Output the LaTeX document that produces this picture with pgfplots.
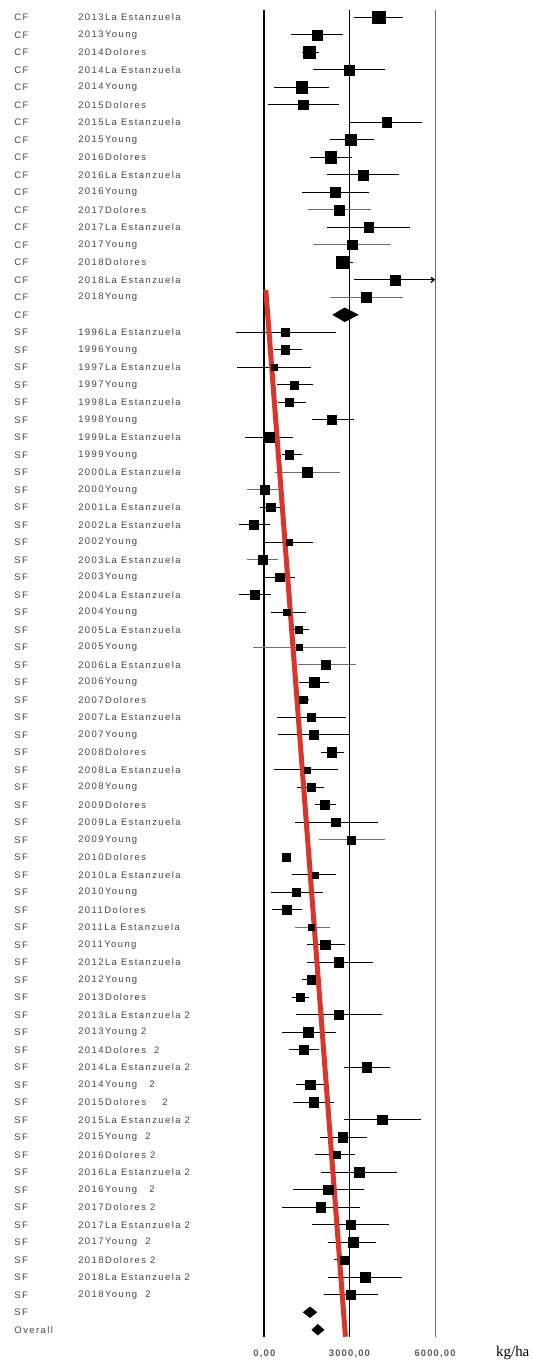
\documentclass[border=0pt]{standalone}
\usepackage{fontspec}
\usepackage{pgfplots}
\usepackage{pgfplotstable}
\pgfplotsset{compat=1.18}
\usetikzlibrary{arrows.meta}

\newfontfamily\lblfont[LetterSpace=15]{Liberation Sans}
\newfontfamily\tickfont[LetterSpace=12]{Liberation Sans}
\newfontfamily\unitfont{Liberation Serif}
\definecolor{lbl}{HTML}{454545}
\definecolor{ticktext}{HTML}{5A5A5A}
\definecolor{trend}{HTML}{D9352B}
\definecolor{thinci}{HTML}{6E6E6E}

% keep only rows whose numeric column #1 equals #2
\pgfplotsset{
  only if/.style 2 args={restrict expr to domain={\thisrow{#1}}{#2:#2}},
}

% row: position from the top; grp/name: study labels;
% est, lo, hi: mean difference and 95% interval (kg/ha);
% sz: half side of the square; lw: 1 thick interval, 0 thin, 2 pooled
\pgfplotstableread[col sep=comma]{
row,grp,name,est,lo,hi,sz,lw
1,CF,2013La Estanzuela,4024,3167,4893,6.3,1
2,CF,2013Young,1857,952,2786,5,1
3,CF,2014Dolores,1607,1321,1917,6,1
4,CF,2014La Estanzuela,2988,1726,4262,5,1
5,CF,2014Young,1321,369,2298,5.7,1
6,CF,2015Dolores,1381,131,2631,4.7,1
7,CF,2015La Estanzuela,4298,3036,5548,4.7,1
8,CF,2015Young,3036,2321,3845,5.7,1
9,CF,2016Dolores,2345,1607,3107,5.7,1
10,CF,2016La Estanzuela,3476,2202,4750,5,1
11,CF,2016Young,2500,1321,3702,5,1
12,CF,2017Dolores,2631,1548,3762,5,0
13,CF,2017La Estanzuela,3679,2214,5131,4.7,1
14,CF,2017Young,3095,1726,4440,4.7,0
15,CF,2018Dolores,2774,2536,3131,6.3,1
16,CF,2018La Estanzuela,4595,3167,6000,5,1
17,CF,2018Young,3571,2321,4869,5,0
18,CF,,2833,2417,3310,0,2
19,SF,1996La Estanzuela,750,-976,2536,4.3,1
20,SF,1996Young,750,369,1345,4.3,1
21,SF,1997La Estanzuela,369,-952,1667,3.3,1
22,SF,1997Young,1060,464,1714,4,1
23,SF,1998La Estanzuela,893,488,1476,4.3,1
24,SF,1998Young,2381,1679,3143,4.7,1
25,SF,1999La Estanzuela,179,-643,1024,5,1
26,SF,1999Young,893,631,1345,4.3,1
27,SF,2000La Estanzuela,1524,393,2679,4.7,0
28,SF,2000Young,36,-583,548,4.3,0
29,SF,2001La Estanzuela,238,-143,583,4.3,1
30,SF,2002La Estanzuela,-357,-881,214,4.3,1
31,SF,2002Young,905,0,1726,3,1
32,SF,2003La Estanzuela,-48,-583,488,4.3,0
33,SF,2003Young,548,0,1107,4.3,1
34,SF,2004La Estanzuela,-310,-857,262,4.3,1
35,SF,2004Young,810,238,1476,3.3,1
36,SF,2005La Estanzuela,1214,869,1583,3.7,1
37,SF,2005Young,1238,-381,2893,3.3,0
38,SF,2006La Estanzuela,2179,1190,3214,4.3,0
39,SF,2006Young,1762,1226,2298,4.7,1
40,SF,2007Dolores,1381,1250,1583,3.7,1
41,SF,2007La Estanzuela,1655,476,2893,4.3,1
42,SF,2007Young,1750,512,2988,4.3,1
43,SF,2008Dolores,2381,1988,2810,4.7,1
44,SF,2008La Estanzuela,1524,369,2595,3,1
45,SF,2008Young,1655,1179,2119,4.3,1
46,SF,2009Dolores,2143,1798,2536,4.3,1
47,SF,2009La Estanzuela,2512,1083,4000,4.3,1
48,SF,2009Young,3060,1917,4250,4,0
49,SF,2010Dolores,786,700,870,4.3,1
50,SF,2010La Estanzuela,1798,988,2536,3,1
51,SF,2010Young,1131,238,2060,4.3,1
52,SF,2011Dolores,810,298,1321,4.7,1
53,SF,2011La Estanzuela,1655,1107,2321,3,0
54,SF,2011Young,2155,1500,2833,4.7,1
55,SF,2012La Estanzuela,2631,1500,3821,4.7,1
56,SF,2012Young,1667,1321,2000,4.3,1
57,SF,2013Dolores,1274,988,1583,4.3,1
58,SF,2013La Estanzuela 2,2631,1131,4155,4.7,1
59,SF,2013Young 2,1560,631,2536,4.7,1
60,SF,2014Dolores~~2,1393,869,1940,4.7,1
61,SF,2014La Estanzuela 2,3607,2798,4417,4.7,1
62,SF,2014Young~~~2,1631,1131,2119,4.7,1
63,SF,2015Dolores~~~~2,1750,1012,2476,4.7,1
64,SF,2015La Estanzuela 2,4155,2810,5512,4.7,1
65,SF,2015Young~~2,2762,1964,3607,4.7,1
66,SF,2016Dolores 2,2548,1798,3202,3.3,1
67,SF,2016La Estanzuela 2,3345,1988,4679,4.7,1
68,SF,2016Young~~~2,2250,1024,3512,4.7,1
69,SF,2017Dolores 2,2000,631,3369,4.7,1
70,SF,2017La Estanzuela 2,3036,1702,4393,4.3,1
71,SF,2017Young~~2,3131,2238,3941,4.7,1
72,SF,2018Dolores 2,2833,2476,3012,4,1
73,SF,2018La Estanzuela 2,3548,2238,4857,4.7,1
74,SF,2018Young~~2,3036,2095,4000,4.7,1
75,SF,,1619,1380,1860,0,2
76,Overall,,1893,1680,2110,0,2
}\forest

\begin{document}
\begin{tikzpicture}
\begin{axis}[
  scale only axis,
  width=532bp, height=1363bp,
  xmin=-9246, xmax=9400,
  ymin=0.0114, ymax=77.9,
  y dir=reverse,
  hide axis,
  clip=false,
]
\path (rel axis cs:0,0) rectangle (rel axis cs:1,1);

% reference lines at 0, 3000 and 6000 kg/ha
\addplot[black, line width=1.8bp] coordinates {(0,0.58) (0,76.4)};
\addplot[black, line width=1.8bp] coordinates {(3000,0.58) (3000,76.4)};
\addplot[thinci, line width=0.8bp] coordinates {(6000,0.58) (6000,76.4)};

% confidence intervals
\addplot[only marks, mark=none, only if={lw}{1},
  error bars/.cd, x dir=both, x explicit, error mark=none,
  error bar style={draw=black, line width=1.3bp}]
  table[x=est, y=row,
        x error plus expr=\thisrow{hi}-\thisrow{est},
        x error minus expr=\thisrow{est}-\thisrow{lo}] {\forest};
\addplot[only marks, mark=none, only if={lw}{0},
  error bars/.cd, x dir=both, x explicit, error mark=none,
  error bar style={draw=thinci, line width=0.7bp}]
  table[x=est, y=row,
        x error plus expr=\thisrow{hi}-\thisrow{est},
        x error minus expr=\thisrow{est}-\thisrow{lo}] {\forest};
% interval running past the right edge
\addplot[black, line width=1.3bp, -{Straight Barb[length=3bp,width=5bp]}]
  coordinates {(4595,16) (6000,16)};

% study estimates, square size by weight
\addplot[scatter, only marks, mark=square*,
  only if={lw}{1},
  scatter/use mapped color={draw=black, fill=black},
  visualization depends on={\thisrow{sz} \as \msz},
  scatter/@pre marker code/.append style={/tikz/mark size=\msz bp}]
  table[x=est, y=row] {\forest};
\addplot[scatter, only marks, mark=square*,
  only if={lw}{0},
  scatter/use mapped color={draw=black, fill=black},
  visualization depends on={\thisrow{sz} \as \msz},
  scatter/@pre marker code/.append style={/tikz/mark size=\msz bp}]
  table[x=est, y=row] {\forest};

% pooled estimates
\addplot[fill=black, draw=black] coordinates {(2417,18) (2833,17.6) (3310,18) (2833,18.4)} -- cycle;
\addplot[fill=black, draw=black] coordinates {(1380,75) (1619,74.69) (1860,75) (1619,75.31)} -- cycle;
\addplot[fill=black, draw=black] coordinates {(1680,76) (1893,75.69) (2110,76) (1893,76.31)} -- cycle;

% trend across years
\addplot[trend, line width=5bp] coordinates {(70,16.58) (2860,76.4)};

% row labels
\addplot[only marks, mark=none, nodes near coords, point meta=explicit symbolic,
  every node near coord/.append style={anchor=west, inner sep=0pt,
    font=\fontsize{9.5}{10}\selectfont\lblfont, text=lbl}]
  table[x expr=-8745, y=row, meta=grp] {\forest};
\addplot[only marks, mark=none, nodes near coords, point meta=explicit symbolic,
  every node near coord/.append style={anchor=west, inner sep=0pt,
    font=\fontsize{9.5}{10}\selectfont\lblfont, text=lbl}]
  table[x expr=-6509, y=row, meta=name] {\forest};

% scale labels
\node[font=\fontsize{9.5}{10}\selectfont\tickfont\bfseries, text=ticktext] at (axis cs:20,77.38) {0,00};
\node[font=\fontsize{9.5}{10}\selectfont\tickfont\bfseries, text=ticktext] at (axis cs:3000,77.38) {3000,00};
\node[font=\fontsize{9.5}{10}\selectfont\tickfont\bfseries, text=ticktext] at (axis cs:6000,77.38) {6000,00};
\node[font=\fontsize{15}{16}\selectfont\unitfont, text=black] at (axis cs:8725,77.3) {kg/ha};
\end{axis}
\end{tikzpicture}
\end{document}
